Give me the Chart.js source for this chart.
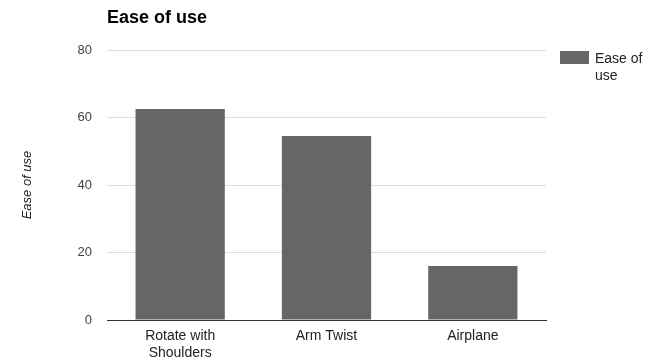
<!DOCTYPE html>
<html>
<head>
<meta charset="utf-8">
<script src="https://cdn.jsdelivr.net/npm/chart.js@4/dist/chart.umd.min.js"></script>
<style>
html,body{margin:0;padding:0;background:#fff;}
#wrap{width:658px;height:362px;position:relative;}
</style>
</head>
<body>
<div id="wrap"><canvas id="c" width="658" height="362"></canvas></div>
<script>
const categories = [["Rotate with","Shoulders"], "Arm Twist", "Airplane"];
const seriesName = "Ease of use";
const values = [62.5, 54.5, 16];
const yTicks = [0, 20, 40, 60, 80];
const chartTitle = "Ease of use";
const yAxisTitle = "Ease of use";
const legendLines = ["Ease of", "use"];

const FONT = "'Liberation Sans', Arial, sans-serif";
const BAR = "#666666";

const decor = {
  id: 'decor',
  afterDraw(chart) {
    const ctx = chart.ctx, a = chart.chartArea;
    ctx.save();
    ctx.fillStyle = '#000';
    ctx.font = "bold 18px " + FONT;
    ctx.textAlign = 'left';
    ctx.textBaseline = 'middle';
    ctx.fillText(chartTitle, a.left, 18);
    // legend
    const bx = a.right + 14, by = a.top + 1;
    ctx.fillStyle = BAR;
    ctx.fillRect(bx, by, 29, 13);
    ctx.fillStyle = '#222';
    ctx.font = "14px " + FONT;
    ctx.textBaseline = 'alphabetic';
    legendLines.forEach((t, i) => ctx.fillText(t, bx + 35, by + 12 + i * 17));
    ctx.restore();
  }
};

new Chart(document.getElementById('c'), {
  type: 'bar',
  data: {
    labels: categories,
    datasets: [{
      label: seriesName,
      data: values,
      backgroundColor: BAR,
      borderWidth: 0,
      barPercentage: 0.61,
      categoryPercentage: 1
    }]
  },
  options: {
    responsive: false,
    animation: false,
    devicePixelRatio: 1,
    layout: { padding: { left: 16, right: 112, top: 50, bottom: 0 } },
    plugins: { legend: { display: false }, title: { display: false }, tooltip: { enabled: false } },
    scales: {
      x: {
        grid: { display: false, drawTicks: false },
        border: { display: true, color: '#333', width: 1 },
        ticks: { color: '#222', font: { family: FONT, size: 14, lineHeight: 1.2 }, padding: 8, maxRotation: 0 },
        afterFit(s) { s.height = 42; }
      },
      y: {
        min: 0, max: 80,
        afterBuildTicks(s) { s.ticks = yTicks.map(v => ({ value: v })); },
        grid: { color: '#dddddd', drawTicks: false },
        border: { display: false },
        ticks: { color: '#444', font: { family: FONT, size: 13 }, padding: 15 },
        title: { display: true, text: yAxisTitle, color: '#222', font: { family: FONT, size: 13, style: 'italic' } },
        afterFit(s) { s.width = 91; }
      }
    }
  },
  plugins: [decor]
});
</script>
</body>
</html>
